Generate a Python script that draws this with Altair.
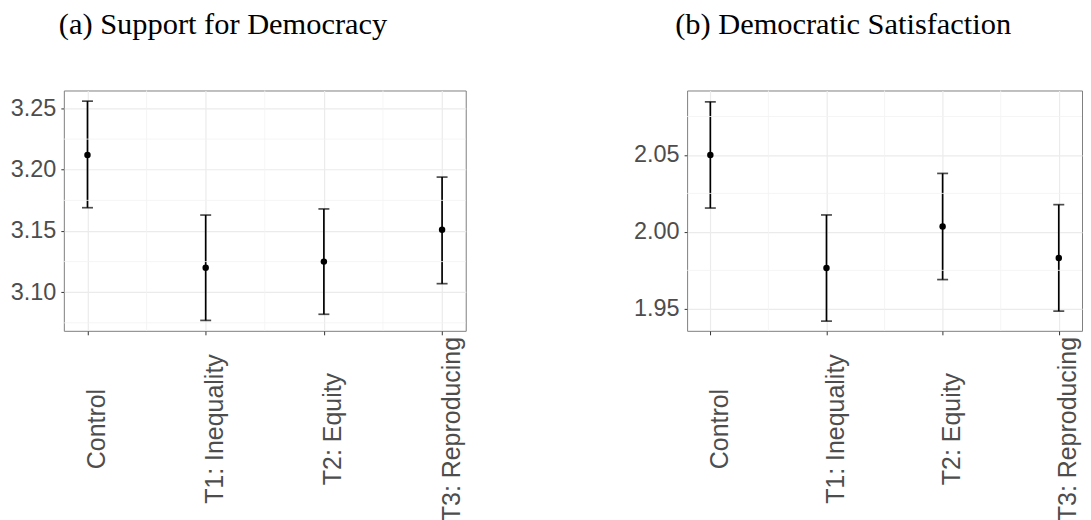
import altair as alt
import pandas as pd

categories = ["Control", "T1: Inequality", "T2: Equity", "T3: Reproducing"]

support_mean = [3.212, 3.120, 3.125, 3.151]
support_low = [3.169, 3.077, 3.082, 3.107]
support_high = [3.256, 3.163, 3.168, 3.194]
support_ticks = [3.10, 3.15, 3.20, 3.25]

satis_mean = [2.050, 1.9765, 2.0035, 1.983]
satis_low = [2.0155, 1.942, 1.969, 1.9485]
satis_high = [2.0845, 2.011, 2.038, 2.0177]
satis_ticks = [1.95, 2.00, 2.05]

LABEL_FONT = "Liberation Sans"
TITLE_FONT = "Liberation Serif"
GRID = "#ebebeb"
MINOR = "#f3f3f3"


def panel(title, mean, low, high, ticks, domain, width, dx):
    n = len(categories)
    df = pd.DataFrame({"idx": list(range(n)), "cat": categories,
                       "mean": mean, "low": low, "high": high})
    step = ticks[1] - ticks[0]
    minor_y_vals = [t - step / 2 for t in ticks] + [ticks[-1] + step / 2]
    minor_y_vals = [v for v in minor_y_vals if domain[0] < v < domain[1]]
    minor_x = pd.DataFrame({"v": [i + 0.5 for i in range(n - 1)]})
    minor_y = pd.DataFrame({"v": minor_y_vals})

    xs = alt.Scale(domain=[-0.2, n - 1 + 0.2], nice=False, zero=False)
    ys = alt.Scale(domain=domain, nice=False, zero=False)
    label_expr = "[" + ",".join("'%s'" % c for c in categories) + "][datum.value]"

    x_axis = alt.Axis(values=list(range(n)), labelExpr=label_expr, title=None,
                      grid=True, gridColor=GRID, gridWidth=1.2, domain=False,
                      tickColor="#333333", tickSize=4, tickWidth=1,
                      labelAngle=270, labelAlign="center", labelBaseline="top",
                      labelFontSize=25, labelColor="#4d4d4d", labelFont=LABEL_FONT,
                      labelPadding=94, labelFlush=False, labelOverlap=False,
                      labelBound=False, labelLimit=0, labelOffset=-3)
    y_axis = alt.Axis(values=ticks, format=".2f", title=None,
                      grid=True, gridColor=GRID, gridWidth=1.2, domain=False,
                      tickColor="#333333", tickSize=3, tickWidth=1,
                      labelFontSize=23.5, labelColor="#4d4d4d", labelFont=LABEL_FONT,
                      labelPadding=5, minExtent=55, maxExtent=55, labelFlush=False)

    base = alt.Chart(df)
    stems = base.mark_rule(color="black", strokeWidth=1.7).encode(
        x=alt.X("idx:Q", scale=xs, axis=x_axis),
        y=alt.Y("low:Q", scale=ys, axis=y_axis),
        y2="high:Q",
    )
    cap_lo = base.mark_tick(color="black", orient="horizontal", size=11, thickness=1.7).encode(
        x=alt.X("idx:Q", scale=xs), y=alt.Y("low:Q", scale=ys))
    cap_hi = base.mark_tick(color="black", orient="horizontal", size=11, thickness=1.7).encode(
        x=alt.X("idx:Q", scale=xs), y=alt.Y("high:Q", scale=ys))
    pts = base.mark_circle(color="black", size=42, opacity=1).encode(
        x=alt.X("idx:Q", scale=xs), y=alt.Y("mean:Q", scale=ys))

    mx = alt.Chart(minor_x).mark_rule(color=MINOR, strokeWidth=0.8).encode(
        x=alt.X("v:Q", scale=xs))
    my = alt.Chart(minor_y).mark_rule(color=MINOR, strokeWidth=0.8).encode(
        y=alt.Y("v:Q", scale=ys))

    return alt.layer(stems, mx, my, cap_lo, cap_hi, pts).properties(
        width=width, height=241,
        title=alt.TitleParams(title, font=TITLE_FONT, fontSize=30.5, fontWeight="normal",
                              color="black", anchor="start", frame="group", dx=dx,
                              offset=26, baseline="alphabetic"),
    )


left = panel("(a) Support for Democracy", support_mean, support_low, support_high,
             support_ticks, [3.0685, 3.2647], 403, -5)
right = panel("(b) Democratic Satisfaction", satis_mean, satis_low, satis_high,
              satis_ticks, [1.9357, 2.0919], 396, -12)

chart = alt.hconcat(left, right, spacing=165).properties(
    padding={"left": 0, "top": 0, "right": 0, "bottom": 0}
).configure_view(stroke="#7f7f7f", strokeWidth=1)

chart.save("out.html", embed_options={"renderer": "svg", "actions": False})
